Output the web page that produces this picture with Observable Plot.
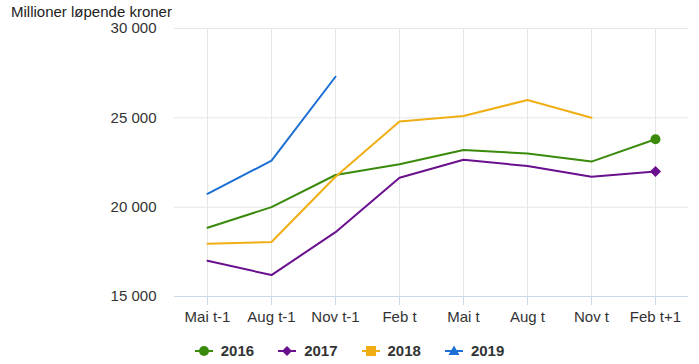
<!DOCTYPE html>
<html>
<head>
<meta charset="utf-8">
<script src="https://cdn.jsdelivr.net/npm/d3@7"></script>
<script src="https://cdn.jsdelivr.net/npm/@observablehq/plot@0.6"></script>
<style>
  body { margin: 0; background: #fff; font-family: "Liberation Sans", Arial, sans-serif; }
  #wrap { position: relative; width: 699px; height: 364px; }
  #title { position: absolute; left: 11px; top: 3px; font-size: 15px; color: #222; }
  #chart { position: absolute; left: 0; top: 0; }
  #legend { position: absolute; left: 0; top: 342px; width: 699px; display: flex; justify-content: center; gap: 24px; font-size: 15px; font-weight: bold; color: #333; }
  .item { display: flex; align-items: center; gap: 8px; }
</style>
</head>
<body>
<div id="wrap">
  <div id="chart"></div>
  <div id="title">Millioner løpende kroner</div>
  <div id="legend"></div>
</div>
<script>
const categories = ["Mai t-1", "Aug t-1", "Nov t-1", "Feb t", "Mai t", "Aug t", "Nov t", "Feb t+1"];
const seriesNames = ["2016", "2017", "2018", "2019"];
const v2016 = [18850, 20000, 21800, 22400, 23200, 23000, 22550, 23800];
const v2017 = [17000, 16200, 18600, 21650, 22650, 22300, 21700, 22000];
const v2018 = [17950, 18050, 21700, 24800, 25100, 26000, 25000];
const v2019 = [20750, 22600, 27300];
const colors = ["#3a8a0b", "#6a0f8e", "#f0ae14", "#1c6fd4"];
const symbols = ["circle", "diamond2", "square", "triangle"];
const yTicks = [15000, 20000, 25000, 30000];

const allValues = [v2016, v2017, v2018, v2019];
const data = [];
allValues.forEach((vals, i) => vals.forEach((v, j) => data.push({series: seriesNames[i], cat: categories[j], value: v})));
const endPoints = [
  {series: "2016", cat: categories[v2016.length - 1], value: v2016[v2016.length - 1]},
  {series: "2017", cat: categories[v2017.length - 1], value: v2017[v2017.length - 1]}
];

const fmt = d => d3.format(",")(d).replace(/,/g, " ");

const chart = Plot.plot({
  width: 699,
  height: 338,
  marginLeft: 174,
  marginRight: 11,
  marginTop: 28,
  marginBottom: 42,
  style: {fontFamily: "'Liberation Sans', Arial, sans-serif", fontSize: "15px", background: "#fff"},
  x: {type: "point", domain: categories, padding: 0.5, label: null},
  y: {domain: [15000, 30000], label: null},
  color: {domain: seriesNames, range: colors},
  symbol: {domain: seriesNames, range: symbols},
  marks: [
    Plot.gridX(categories, {stroke: "#e6e6e6", strokeOpacity: 1}),
    Plot.gridY(yTicks.slice(1), {stroke: "#e6e6e6", strokeOpacity: 1}),
    Plot.ruleY([15000], {stroke: "#ccd6eb"}),
    Plot.axisX({tickSize: 9, tickPadding: 6, stroke: "#ccd6eb", fill: "#333", fontSize: 15, label: null}),
    Plot.axisY({ticks: yTicks, tickSize: 0, tickPadding: 18, tickFormat: fmt, fill: "#333", fontSize: 15, label: null}),
    Plot.line(data, {x: "cat", y: "value", z: "series", stroke: "series", strokeWidth: 2}),
    Plot.dot(endPoints, {x: "cat", y: "value", fill: "series", symbol: "series", r: 5})
  ]
});
document.getElementById("chart").append(chart);

const legend = document.getElementById("legend");
const shapes = [
  '<circle cx="9" cy="7" r="5"/>',
  '<path d="M9 2 L14 7 L9 12 L4 7 Z"/>',
  '<rect x="4" y="2" width="10" height="10"/>',
  '<path d="M9 1.5 L14.5 11 L3.5 11 Z"/>'
];
seriesNames.forEach((s, i) => {
  const it = document.createElement("div");
  it.className = "item";
  it.innerHTML = `<svg width="18" height="14"><line x1="0" x2="18" y1="7" y2="7" stroke="${colors[i]}" stroke-width="2"/><g fill="${colors[i]}">${shapes[i]}</g></svg><span>${s}</span>`;
  legend.append(it);
});
</script>
</body>
</html>
